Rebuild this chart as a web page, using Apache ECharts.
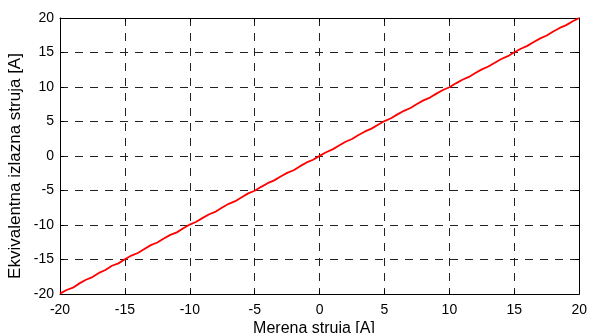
<!DOCTYPE html>
<html>
<head>
<meta charset="utf-8">
<script src="https://cdn.jsdelivr.net/npm/echarts@6/dist/echarts.min.js"></script>
<style>html,body{margin:0;padding:0;background:#fff;}#c{width:590px;height:333px;}</style>
</head>
<body>
<div id="c"></div>
<script>
var xTitle = "Merena struja [A]";
var yTitle = "Ekvivalentna izlazna struja [A]";
var axisMin = -20, axisMax = 20, axisStep = 5;
var measured = [-20,-19.5,-19,-18.5,-18,-17.5,-17,-16.5,-16,-15.5,-15,-14.5,-14,-13.5,-13,-12.5,-12,-11.5,-11,-10.5,-10,-9.5,-9,-8.5,-8,-7.5,-7,-6.5,-6,-5.5,-5,-4.5,-4,-3.5,-3,-2.5,-2,-1.5,-1,-0.5,0,0.5,1,1.5,2,2.5,3,3.5,4,4.5,5,5.5,6,6.5,7,7.5,8,8.5,9,9.5,10,10.5,11,11.5,12,12.5,13,13.5,14,14.5,15,15.5,16,16.5,17,17.5,18,18.5,19,19.5,20];
var output = [-19.95,-19.42,-19.08,-18.46,-17.93,-17.55,-16.94,-16.52,-15.91,-15.56,-14.97,-14.43,-14.06,-13.47,-12.92,-12.54,-11.96,-11.43,-11.07,-10.48,-9.94,-9.53,-8.97,-8.44,-8.05,-7.46,-6.93,-6.55,-5.98,-5.42,-5.04,-4.47,-3.94,-3.53,-2.96,-2.45,-2.06,-1.47,-0.93,-0.54,0.02,0.55,0.96,1.53,2.07,2.46,3.04,3.56,3.97,4.52,5.06,5.47,6.03,6.55,6.96,7.53,8.06,8.47,9.04,9.56,9.97,10.53,11.05,11.46,12.04,12.55,12.97,13.52,14.06,14.47,15.03,15.55,15.96,16.53,17.05,17.46,18.04,18.56,18.97,19.53,20.0];

var pts = measured.map(function(v,i){return [v, output[i]];});
var font = 'Liberation Sans, Arial, sans-serif';
function mainAxis(pos){
  return {
    type:'value', position:pos, min:axisMin, max:axisMax, interval:axisStep,
    axisLine:{show:true, onZero:false, lineStyle:{color:'#000', width:1}},
    axisTick:{show:true, inside:true, length:4, lineStyle:{color:'#000'}},
    axisLabel:{show:true, color:'#000', fontSize:14, fontFamily:font, margin:pos==='bottom'?9:6},
    splitLine:{show:true, lineStyle:{color:'#222', type:[8,7], width:1}}
  };
}
function sideAxis(pos){
  return {
    type:'value', position:pos, min:axisMin, max:axisMax, interval:axisStep,
    axisLine:{show:true, onZero:false, lineStyle:{color:'#000', width:1}},
    axisTick:{show:true, inside:true, length:4, lineStyle:{color:'#000'}},
    axisLabel:{show:false}, splitLine:{show:false}
  };
}
var chart = echarts.init(document.getElementById('c'), null, {renderer:'canvas'});
chart.setOption({
  animation:false,
  backgroundColor:'#fff',
  grid:{left:60, right:9, top:18, bottom:39},
  xAxis:[mainAxis('bottom'), sideAxis('top')],
  yAxis:[mainAxis('left'), sideAxis('right')],
  graphic:[
    {type:'text', x:314, y:329, style:{text:xTitle, fontSize:16, fontFamily:font, fill:'#000', align:'center', verticalAlign:'middle'}},
    {type:'text', x:15, y:166, rotation:Math.PI/2, style:{text:yTitle, fontSize:17, fontFamily:font, fill:'#000', align:'center', verticalAlign:'middle'}}
  ],
  series:[{
    type:'line', data:pts, xAxisIndex:0, yAxisIndex:0, showSymbol:false, symbol:'none',
    lineStyle:{color:'#ff0000', width:1.8}, z:5
  }]
});
</script>
</body>
</html>
